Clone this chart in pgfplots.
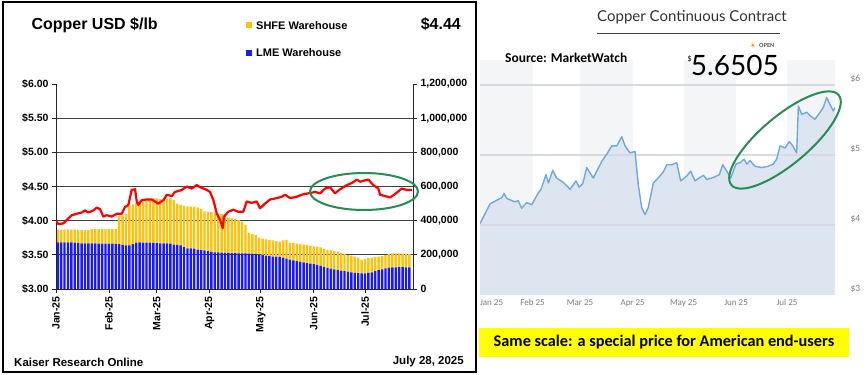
\documentclass[border=0pt]{standalone}
\usepackage{pgfplots}
\pgfplotsset{compat=1.18}
\usepackage{pgfplotstable}
\usepackage{fontspec}
\setmainfont{Liberation Sans}
\newfontfamily\lato{Lato}
\newfontfamily\carlito{Carlito}
\newfontfamily\dejavu{DejaVu Sans}
\definecolor{shfe}{RGB}{255,194,10}
\definecolor{lme}{RGB}{25,25,255}
\definecolor{ring}{RGB}{40,140,85}
\definecolor{mwline}{RGB}{111,168,220}
\definecolor{mwfill}{RGB}{221,230,240}
\definecolor{mwband}{RGB}{244,245,247}
\definecolor{mwgrid}{RGB}{214,218,224}
\definecolor{mwtext}{RGB}{125,125,125}
\definecolor{hl}{RGB}{255,255,0}

% Warehouse stocks (tonnes): LME and LME+SHFE total
\pgfplotstableread{
day lme total
1 273000 348000
3 273000 348000
5 273000 348000
7 273000 349000
9 273000 348000
11 272000 347000
13 270000 346000
15 267000 344000
17 267000 344000
19 267000 345000
21 267000 350000
23 267000 350000
25 266000 350000
27 266000 351000
29 266000 350000
31 265000 350000
33 265000 351000
35 264000 350000
37 262000 428000
39 258000 430000
41 256000 440000
43 255000 486000
45 262000 495000
47 272000 505000
49 273000 512000
51 272000 512000
53 272000 515000
55 271000 525000
57 270000 531000
59 268000 531000
61 267000 528000
63 267000 525000
65 267000 528000
67 266000 531000
69 260000 520000
71 258000 500000
73 255000 492000
75 245000 488000
77 238000 484000
79 238000 482000
81 236000 482000
83 230000 478000
85 228000 468000
87 226000 455000
89 222000 453000
91 218000 450000
93 215000 446000
95 214000 443000
97 213000 440000
99 212000 425000
101 211000 418000
103 210000 414000
105 210000 410000
107 209000 405000
109 209000 395000
111 208000 375000
113 207000 330000
115 206000 322000
117 205000 316000
119 203000 300000
121 200000 295000
123 196000 290000
125 192000 287000
127 190000 285000
129 189000 280000
131 188000 277000
133 183000 285000
135 178000 287000
137 172000 270000
139 168000 268000
141 163000 266000
143 160000 262000
145 156000 260000
147 152000 258000
149 149000 254000
151 145000 250000
153 141000 248000
155 136000 244000
157 130000 236000
159 123000 229000
161 119000 226000
163 115000 221000
165 112000 219000
167 108000 212000
169 104000 204000
171 101000 199000
173 98000 195000
175 95000 190000
177 93000 184000
179 92000 172000
181 92000 175000
183 95000 180000
185 98000 183000
187 104000 186000
189 110000 189000
191 115000 192000
193 120000 198000
195 125000 205000
197 127000 208000
199 127000 209000
201 128000 209000
203 128000 207000
205 127000 206000
207 127000 205000
}\stocks

% Copper price, USD/lb (Kaiser chart)
\pgfplotstableread{
day price
0 4.01
1.3 3.95
4.3 3.96
6.3 4.01
9.2 4.08
12.1 4.10
15.1 4.12
17.0 4.15
18.9 4.12
21.9 4.15
23.8 4.19
25.8 4.17
27.7 4.06
29.7 4.08
32.6 4.06
35.6 4.10
38.5 4.10
40.4 4.20
42.4 4.23
44.3 4.45
46.3 4.46
47.3 4.28
48.2 4.23
50.2 4.30
53.1 4.31
56.1 4.31
58.0 4.28
59.9 4.25
62.9 4.30
64.9 4.38
67.8 4.36
69.7 4.42
73.6 4.45
76.6 4.50
79.5 4.47
82.4 4.52
84.4 4.49
88.3 4.45
90.2 4.42
92.2 4.30
94.1 4.11
96.1 4.01
97.7 3.89
98.4 4.06
100.9 4.13
103.9 4.16
106.8 4.13
109.7 4.13
111.7 4.28
114.6 4.26
117.6 4.28
119.5 4.18
122.4 4.25
125.4 4.31
129.3 4.33
132.2 4.35
134.2 4.38
137.1 4.33
141.0 4.35
143.9 4.38
147.8 4.40
151.7 4.42
154.7 4.40
157.6 4.47
160.5 4.49
163.4 4.40
166.4 4.46
170.3 4.52
173.2 4.55
176.2 4.60
178.1 4.57
181.0 4.59
183.0 4.60
185.9 4.52
188.8 4.47
189.8 4.38
192.7 4.36
195.7 4.34
198.6 4.39
202.5 4.47
205.5 4.45
208.4 4.45
}\lmeprice

% Copper continuous contract (MarketWatch), USD/lb
\pgfplotstableread{
day price
0 4.02
5.9 4.30
8.8 4.34
12.8 4.39
14.2 4.45
15.7 4.38
20.6 4.33
22.4 4.35
24.6 4.24
27.5 4.32
30.5 4.29
34.4 4.46
36.0 4.51
38.9 4.72
40.3 4.60
42.9 4.78
45.2 4.67
49.5 4.60
53.1 4.51
56.6 4.63
58.5 4.54
60.6 4.59
62.9 4.82
66.8 4.67
71.8 4.91
74.7 5.01
77.7 5.13
80.6 5.13
83.6 5.26
85.5 5.13
88.4 5.03
91.4 5.05
93.3 4.58
95.3 4.25
97.3 4.15
99.2 4.25
102.2 4.60
106.1 4.70
108.1 4.76
110.1 4.86
113.0 4.86
116.0 4.89
118.3 4.63
121.9 4.70
124.2 4.77
126.8 4.63
129.7 4.68
131.7 4.71
133.7 4.65
136.6 4.67
138.6 4.69
141.1 4.72
143.1 4.86
145.5 4.77
147.8 4.67
150.9 4.87
153.3 4.89
155.7 4.94
157.3 4.87
159.2 4.92
162.1 4.84
166.1 4.82
170.0 4.84
172.9 4.87
174.9 4.94
176.9 5.13
179.8 5.10
182.4 5.19
184.4 5.13
186.7 5.03
187.7 5.70
189.7 5.58
192.6 5.61
194.6 5.56
197.5 5.51
200.5 5.61
202.4 5.68
204.4 5.82
206.4 5.72
208.3 5.63
209.3 5.68
}\mw

\begin{document}
\begin{tikzpicture}[x=1pt,y=1pt]
\useasboundingbox (0,0) rectangle (868,375);
\fill[white] (0,0) rectangle (868,375);

% ---------- Left panel: warehouse stocks (right axis) ----------
\begin{axis}[at={(56pt,86pt)}, anchor=south west, scale only axis,
  width=357pt, height=205pt,
  xmin=0, xmax=209.1, ymin=0, ymax=1200000,
  axis x line*=bottom, axis y line*=right,
  axis line style={black!85, line width=0.9pt},
  tick align=outside, major tick length=4pt,
  tick style={black!85, line width=0.8pt},
  xtick={0,31,59,90,120,151,181},
  xticklabels={Jan-25,Feb-25,Mar-25,Apr-25,May-25,Jun-25,Jul-25},
  xticklabel style={rotate=90, anchor=east, font=\bfseries\fontsize{10.5}{12}\selectfont},
  ytick={0,200000,400000,600000,800000,1000000,1200000},
  yticklabels={0,{200,000},{400,000},{600,000},{800,000},{1,000,000},{1,200,000}},
  yticklabel style={font=\bfseries\fontsize{10.5}{12}\selectfont},
  scaled y ticks=false,
  ybar stacked, bar width=1.4]
\addplot[fill=lme, draw=none] table[x=day, y=lme] {\stocks};
\addplot[fill=shfe, draw=none] table[x=day, y expr=\thisrow{total}-\thisrow{lme}] {\stocks};
\draw[black!75, line width=0.9pt] (axis cs:0,200000) -- (axis cs:209.1,200000);
\draw[black!75, line width=0.9pt] (axis cs:0,400000) -- (axis cs:209.1,400000);
\draw[black!75, line width=0.9pt] (axis cs:0,600000) -- (axis cs:209.1,600000);
\draw[black!75, line width=0.9pt] (axis cs:0,800000) -- (axis cs:209.1,800000);
\draw[black!75, line width=0.9pt] (axis cs:0,1000000) -- (axis cs:209.1,1000000);
\end{axis}

% ---------- Left panel: price (left axis) ----------
\begin{axis}[at={(56pt,86pt)}, anchor=south west, scale only axis,
  width=357pt, height=205pt,
  xmin=0, xmax=209.1, ymin=3, ymax=6,
  axis y line*=left, axis x line=none,
  axis line style={black!85, line width=0.9pt},
  tick align=outside, major tick length=4pt,
  tick style={black!85, line width=0.8pt},
  xtick=\empty,
  ytick={3,3.5,4,4.5,5,5.5,6},
  yticklabels={\$3.00,\$3.50,\$4.00,\$4.50,\$5.00,\$5.50,\$6.00},
  yticklabel style={font=\bfseries\fontsize{10.5}{12}\selectfont}]
\addplot[red, line width=2.2pt, line join=round] table[x=day, y=price] {\lmeprice};
\end{axis}

% left panel texts and frame
\node[anchor=west, font=\bfseries\fontsize{16}{18}\selectfont] at (28,350) {Copper USD \$/lb};
\fill[shfe] (246,347) rectangle (252,353);
\node[anchor=west, font=\bfseries\fontsize{11}{13}\selectfont, inner sep=0pt] at (256,349.5) {SHFE Warehouse};
\fill[lme] (246,319) rectangle (252,325);
\node[anchor=west, font=\bfseries\fontsize{11}{13}\selectfont, inner sep=0pt] at (256,322) {LME Warehouse};
\node[anchor=east, font=\bfseries\fontsize{16}{18}\selectfont, inner sep=0pt] at (461,351) {\$4.44};
\node[anchor=west, font=\bfseries\fontsize{11.5}{13}\selectfont, inner sep=0pt] at (14,13) {Kaiser Research Online};
\node[anchor=east, font=\bfseries\fontsize{11.5}{13}\selectfont, inner sep=0pt] at (464,13) {July 28, 2025};
\draw[black, line width=2pt] (2.5,3) rectangle (476,372.5);
\draw[ring, line width=2pt] (364,183.5) ellipse [x radius=54, y radius=18.5];

% ---------- Right panel: MarketWatch ----------
\begin{axis}[at={(480pt,80pt)}, anchor=south west, scale only axis,
  width=355pt, height=235pt,
  xmin=0, xmax=209.3, ymin=3, ymax=6.357,
  axis line style={draw=none}, tick style={draw=none},
  xtick={0,31,59,90,120,151,181},
  xticklabels={\makebox[0pt][l]{Jan 25},Feb 25,Mar 25,Apr 25,May 25,Jun 25,Jul 25},
  xticklabel style={anchor=north, yshift=-1pt, text=mwtext, font=\carlito\fontsize{9}{11}\selectfont},
  ytick={3,4,5,6}, yticklabel pos=right,
  yticklabels={\$3,\$4,\$5,\$6},
  yticklabel style={anchor=west, xshift=12pt, yshift=6pt, text=mwtext, font=\carlito\fontsize{9.5}{11}\selectfont}]
\fill[mwband] (axis cs:0,3) rectangle (axis cs:31,6.357);
\fill[mwband] (axis cs:59,3) rectangle (axis cs:90,6.357);
\fill[mwband] (axis cs:120,3) rectangle (axis cs:151,6.357);
\fill[mwband] (axis cs:181,3) rectangle (axis cs:209.3,6.357);
\addplot[fill=mwfill, draw=none] table[x=day, y=price] {\mw} \closedcycle;
\draw[mwgrid, line width=1.6pt] (axis cs:0,4) -- (axis cs:209.3,4);
\draw[mwgrid, line width=1.6pt] (axis cs:0,5) -- (axis cs:209.3,5);
\draw[mwgrid, line width=1.6pt] (axis cs:0,6) -- (axis cs:209.3,6);
\addplot[mwline, line width=1.4pt, line join=round] table[x=day, y=price] {\mw};
\end{axis}

% right panel texts
\node[anchor=base, text=black!80, font=\lato\fontsize{15}{18}\selectfont, inner sep=0pt] at (692,353) {Copper Continuous Contract};
\draw[black!75, line width=1.8pt] (597,341.5) -- (780,341.5);
\node[anchor=base west, font=\carlito\bfseries\fontsize{13.5}{16}\selectfont, inner sep=0pt] at (505,312) {Source: MarketWatch};
\node[anchor=base east, font=\lato\fontsize{28}{32}\selectfont, inner sep=0pt] at (779,299) {5.6505};
\node[anchor=base east, font=\lato\fontsize{7}{8}\selectfont, inner sep=0pt] at (692,313) {\$};
\node[anchor=center, text=orange, font=\dejavu\fontsize{7.5}{8}\selectfont, inner sep=0pt] at (753,329.5) {☀};
\node[anchor=west, text=black!70, font=\lato\bfseries\fontsize{5.5}{7}\selectfont, inner sep=0pt] at (759,329.5) {OPEN};
\draw[ring, line width=2pt, rotate around={40:(785,235)}] (785,235) ellipse [x radius=70, y radius=24];

% yellow caption box
\fill[hl] (479,18) rectangle (849,47);
\node[font=\carlito\bfseries\fontsize{16.3}{19}\selectfont, inner sep=0pt] at (664,32.5) {Same scale: a special price for American end-users};
\end{tikzpicture}
\end{document}
